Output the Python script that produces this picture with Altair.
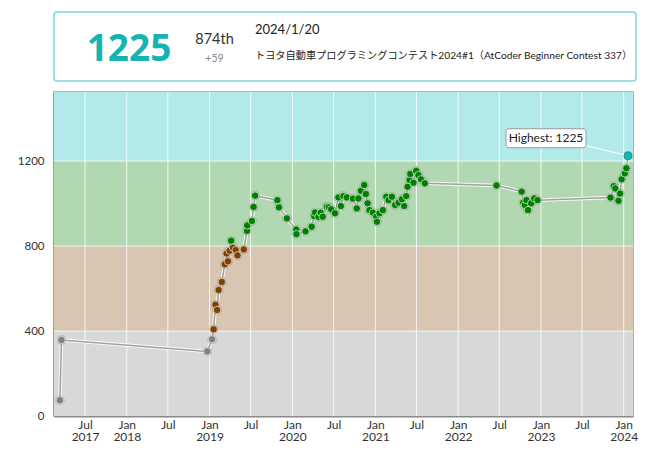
import altair as alt
import pandas as pd

# ---------------- data ----------------
contest_dates = [
    "2017-03-12", "2017-03-19", "2018-12-22", "2019-01-12", "2019-01-19",
    "2019-01-27", "2019-02-03", "2019-02-10", "2019-02-24", "2019-03-09",
    "2019-03-17", "2019-03-23", "2019-03-30", "2019-04-06", "2019-04-14",
    "2019-04-26", "2019-05-04", "2019-06-01", "2019-06-15", "2019-06-16",
    "2019-07-07", "2019-07-14", "2019-07-21", "2019-10-27", "2019-11-03",
    "2019-12-08", "2020-01-18", "2020-01-19", "2020-02-28", "2020-03-26",
    "2020-04-06", "2020-04-10", "2020-04-25", "2020-05-05", "2020-05-14",
    "2020-06-01", "2020-06-10", "2020-06-20", "2020-07-07", "2020-07-22",
    "2020-08-02", "2020-08-13", "2020-08-28", "2020-09-24", "2020-10-11",
    "2020-10-18", "2020-10-29", "2020-11-13", "2020-11-20", "2020-11-28",
    "2020-12-06", "2020-12-21", "2021-01-05", "2021-01-08", "2021-01-19",
    "2021-02-03", "2021-02-18", "2021-02-28", "2021-03-15", "2021-03-29",
    "2021-04-13", "2021-04-28", "2021-05-08", "2021-05-17", "2021-05-23",
    "2021-06-01", "2021-06-04", "2021-06-18", "2021-06-30", "2021-07-10",
    "2021-07-21", "2021-08-07", "2022-06-19", "2022-10-08", "2022-10-15",
    "2022-10-22", "2022-10-29", "2022-11-05", "2022-11-19", "2022-12-03",
    "2022-12-17", "2023-11-04", "2023-11-18", "2023-11-25", "2023-12-09",
    "2023-12-16", "2023-12-23", "2024-01-06", "2024-01-13", "2024-01-20",
]
ratings = [
    74, 358, 304, 361, 408,
    524, 499, 593, 631, 714,
    765, 728, 778, 825, 792,
    781, 756, 784, 871, 897,
    918, 984, 1037, 1016, 982,
    930, 878, 856, 869, 891,
    941, 958, 938, 957, 938,
    985, 982, 973, 954, 1029,
    988, 1035, 1029, 1023, 977,
    1024, 1060, 1087, 1045, 1001,
    969, 957, 938, 914, 954,
    969, 1032, 1016, 1032, 993,
    1004, 1020, 988, 1035, 1079,
    1111, 1139, 1098, 1154, 1134,
    1114, 1095, 1085, 1056, 1004,
    993, 1016, 969, 1001, 1024,
    1016, 1028, 1082, 1071, 1013,
    1047, 1114, 1142, 1166, 1225,
]

x_ticks = ["2017-07-01", "2018-01-01", "2018-07-01", "2019-01-01", "2019-07-01",
           "2020-01-01", "2020-07-01", "2021-01-01", "2021-07-01", "2022-01-01",
           "2022-07-01", "2023-01-01", "2023-07-01", "2024-01-01"]
y_ticks = [0, 400, 800, 1200]
x_range = ["2017-02-14", "2024-02-11"]
y_range = [0, 1525]

band_low = [0, 400, 800, 1200]
band_high = [400, 800, 1200, 1525]
band_fill = ["#D8D8D8", "#D8C5B2", "#B2D8B2", "#B2EAEA"]
tier_fill = ["#808080", "#804000", "#008000", "#00C0C0"]

header_rating = "1225"
header_rank = "874th"
header_diff = "+59"
header_date = "2024/1/20"
header_contest = "トヨタ自動車プログラミングコンテスト2024#1（AtCoder Beginner Contest 337）"
highest_text = "Highest: 1225"

# ---------------- tables ----------------
W, H = 579, 324


def dt(s):
    y, m, d = (int(v) for v in s.split("-"))
    return alt.DateTime(year=y, month=m, date=d, utc=True)


df = pd.DataFrame({"date": contest_dates, "rating": ratings})
df["fill"] = [tier_fill[sum(r >= b for b in band_low[1:])] for r in ratings]
top = df.loc[[df["rating"].idxmax()]].reset_index(drop=True)

bands = pd.DataFrame({"lo": band_low, "hi": band_high, "fill": band_fill})
xgrid = pd.DataFrame({"date": x_ticks})
ygrid = pd.DataFrame({"v": band_low[1:]})
one = pd.DataFrame({"k": [0]})

FONT = "Lato, 'DejaVu Sans', sans-serif"

xscale = alt.Scale(type="utc", domain=[dt(x_range[0]), dt(x_range[1])])
yscale = alt.Scale(domain=y_range, nice=False, zero=True)

label_expr = ("utcmonth(datum.value) == 0 || datum.index == 0 ? "
              "[utcFormat(datum.value, '%b'), utcFormat(datum.value, '%Y')] : "
              "utcFormat(datum.value, '%b')")

xaxis = alt.Axis(values=[dt(t) for t in x_ticks], labelExpr=label_expr, grid=False,
                 ticks=False, title=None, labelFont=FONT, labelFontSize=12,
                 labelColor="#333333", labelPadding=3, labelLineHeight=12,
                 labelFlush=False, labelOverlap=False, domainColor="#8a8a8a",
                 domainWidth=2)
yaxis = alt.Axis(values=y_ticks, format="d", grid=False, ticks=False, title=None,
                 labelFont=FONT, labelFontSize=11.5, labelColor="#333333",
                 labelPadding=10, domainColor="#8a8a8a", domainWidth=2)


def X(field="date", **kw):
    return alt.X(f"{field}:T", scale=xscale, axis=xaxis, **kw)


def Y(field="rating", **kw):
    return alt.Y(f"{field}:Q", scale=yscale, axis=yaxis, **kw)


band_layer = alt.Chart(bands).mark_rect().encode(
    x=alt.value(0), x2=alt.value(W), y=Y("lo"), y2="hi",
    color=alt.Color("fill:N", scale=None))

xgrid_layer = alt.Chart(xgrid).mark_rule(color="white", strokeWidth=1, opacity=0.8).encode(x=X())
ygrid_layer = alt.Chart(ygrid).mark_rule(color="white", strokeWidth=1, opacity=0.8).encode(y=Y("v"))

base = alt.Chart(df).encode(x=X(), y=Y())
line_halo = base.mark_line(color="white", strokeWidth=3.5, opacity=0.85)
line_main = base.mark_line(color="#a0a0a0", strokeWidth=1.5)
shadow = base.mark_circle(size=90, color="#000000", opacity=0.18)
pts = base.mark_circle(size=55, opacity=1, stroke="white", strokeWidth=0.6).encode(
    color=alt.Color("fill:N", scale=None))

hb = alt.Chart(top)
hi_rule = hb.mark_rule(color="white", strokeWidth=1.2, xOffset=-42, yOffset=-10).encode(
    x=X(), y=Y(), x2="date:T", y2="rating:Q")
hi_box = hb.mark_rect(fill="white", stroke="#9a9a9a", strokeWidth=1, cornerRadius=3,
                      xOffset=-122, x2Offset=-42, yOffset=-27, y2Offset=-8).encode(
    x=X(), x2="date:T", y=Y(), y2="rating:Q")
hi_text = hb.mark_text(text=highest_text, font=FONT, fontSize=12, color="#222222",
                       dx=-82, dy=-17.5, align="center", baseline="middle").encode(x=X(), y=Y())
hi_pt = hb.mark_circle(size=62, opacity=1, stroke="#555555", strokeWidth=0.6).encode(
    x=X(), y=Y(), color=alt.Color("fill:N", scale=None))

hdr = alt.Chart(one)
hdr_box = hdr.mark_rect(fill="white", stroke="#80D6D6", strokeWidth=1.5, cornerRadius=3).encode(
    x=alt.value(0), x2=alt.value(582), y=alt.value(-80), y2=alt.value(-11))
hdr_rating = hdr.mark_text(text=header_rating, font="'Liberation Sans Narrow', 'Noto Sans', sans-serif",
                           fontWeight="bold", fontSize=37, color="#17B3B3", align="center",
                           baseline="alphabetic").encode(x=alt.value(75), y=alt.value(-31))
hdr_rank = hdr.mark_text(text=header_rank, font=FONT, fontSize=14.5, color="#333333",
                         align="center", baseline="alphabetic").encode(x=alt.value(160.5), y=alt.value(-48.5))
hdr_diff = hdr.mark_text(text=header_diff, font=FONT, fontSize=10.5, color="#888888",
                         align="center", baseline="alphabetic").encode(x=alt.value(160.5), y=alt.value(-30))
hdr_date = hdr.mark_text(text=header_date, font=FONT, fontSize=13, color="#222222",
                         align="left", baseline="alphabetic").encode(x=alt.value(201), y=alt.value(-58))
hdr_contest = hdr.mark_text(text=header_contest,
                            font="Lato, 'Noto Sans CJK JP', sans-serif",
                            fontSize=10.2, color="#222222", align="left",
                            baseline="alphabetic").encode(x=alt.value(201), y=alt.value(-33))

chart = alt.layer(
    band_layer, xgrid_layer, ygrid_layer, line_halo, line_main, shadow, pts,
    hi_rule, hi_box, hi_text, hi_pt,
    hdr_box, hdr_rating, hdr_rank, hdr_diff, hdr_date, hdr_contest,
).properties(
    width=W, height=H,
    padding={"left": 46, "top": 84, "right": 18, "bottom": 26},
    autosize=alt.AutoSizeParams(type="none"),
    background="white",
).configure_view(stroke="#9a9a9a", strokeWidth=1.5)

chart.save("out.html", embed_options={"renderer": "svg", "actions": False})
